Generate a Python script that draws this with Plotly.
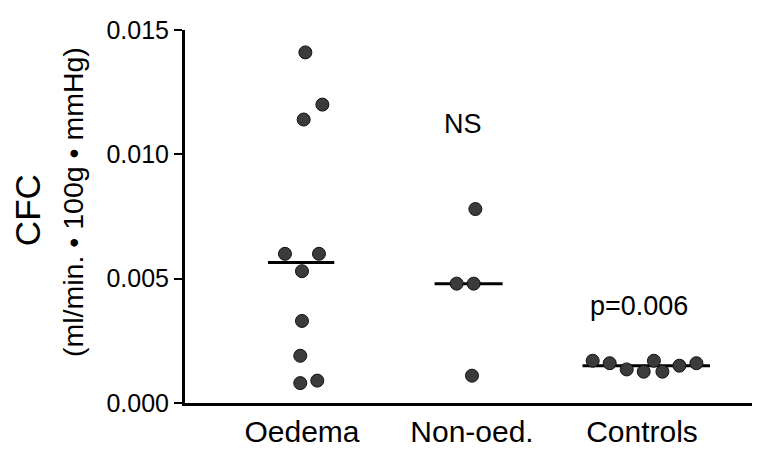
import plotly.graph_objects as go

# ---- data ----
categories = ["Oedema", "Non-oed.", "Controls"]
oedema_values = [0.0141, 0.0120, 0.0114, 0.0060, 0.0060, 0.0053, 0.0033, 0.0019, 0.0008, 0.0009]
oedema_jitter = [0.02, 0.12, 0.01, -0.10, 0.10, 0.00, 0.00, -0.01, -0.01, 0.09]
nonoed_values = [0.0078, 0.0048, 0.0048, 0.0011]
nonoed_jitter = [0.02, -0.09, 0.01, 0.00]
controls_values = [0.0017, 0.0016, 0.00135, 0.00126, 0.0017, 0.00126, 0.0015, 0.0016]
controls_jitter = [-0.29, -0.19, -0.09, 0.01, 0.07, 0.12, 0.22, 0.32]
medians = [0.00565, 0.0048, 0.0015]
median_extent = [(-0.20, 0.19), (-0.22, 0.18), (-0.35, 0.40)]
y_ticks = [0.000, 0.005, 0.010, 0.015]
y_tick_labels = ["0.000", "0.005", "0.010", "0.015"]
annotations_text = [("NS", 1.95, 0.0112), ("p=0.006", 2.98, 0.0039)]

FONT = "Liberation Sans, Arial, Helvetica, sans-serif"
DOT = "#3b3b3b"

groups = [(oedema_values, oedema_jitter), (nonoed_values, nonoed_jitter),
          (controls_values, controls_jitter)]

fig = go.Figure()

# median lines
for i, (m, (a, b)) in enumerate(zip(medians, median_extent)):
    c = i + 1
    fig.add_trace(go.Scatter(x=[c + a, c + b], y=[m, m], mode="lines",
                             line=dict(color="black", width=3),
                             hoverinfo="skip", showlegend=False, cliponaxis=False))

# points
for i, (vals, jit) in enumerate(groups):
    c = i + 1
    fig.add_trace(go.Scatter(
        x=[c + j for j in jit], y=vals, mode="markers",
        marker=dict(size=13, color=DOT, line=dict(color="#111111", width=1)),
        showlegend=False, cliponaxis=False, name=categories[i]))

ann = []
for txt, x, y in annotations_text:
    ann.append(dict(x=x, y=y, xref="x", yref="y", text=txt, showarrow=False,
                    font=dict(family=FONT, size=27, color="black"),
                    xanchor="center", yanchor="middle"))
ann.append(dict(x=-0.2748, y=0.517, xref="paper", yref="paper", text="CFC",
                showarrow=False, textangle=-90,
                font=dict(family=FONT, size=35, color="black"),
                xanchor="center", yanchor="middle"))
ann.append(dict(x=-0.1948, y=0.539, xref="paper", yref="paper",
                text="(ml/min. • 100g • mmHg)",
                showarrow=False, textangle=-90,
                font=dict(family=FONT, size=28.5, color="black"),
                xanchor="center", yanchor="middle"))

fig.update_layout(
    width=760, height=456,
    margin=dict(l=177, r=8, t=14, b=61),
    paper_bgcolor="white", plot_bgcolor="white",
    annotations=ann,
    xaxis=dict(range=[0.312, 3.694], tickvals=[1, 2, 3], ticktext=categories,
               showgrid=False, zeroline=False, showline=True, linecolor="black",
               linewidth=3, ticks="", tickfont=dict(family=FONT, size=30, color="black"),
               fixedrange=True),
    yaxis=dict(range=[0, 0.015], tickvals=y_ticks, ticktext=y_tick_labels,
               showgrid=False, zeroline=False, showline=True, linecolor="black",
               linewidth=3, ticks="outside", ticklen=8, tickwidth=2, tickcolor="black",
               ticklabeloverflow="allow",
               tickfont=dict(family=FONT, size=25, color="black"), fixedrange=True),
)

fig.write_html("out.html")
